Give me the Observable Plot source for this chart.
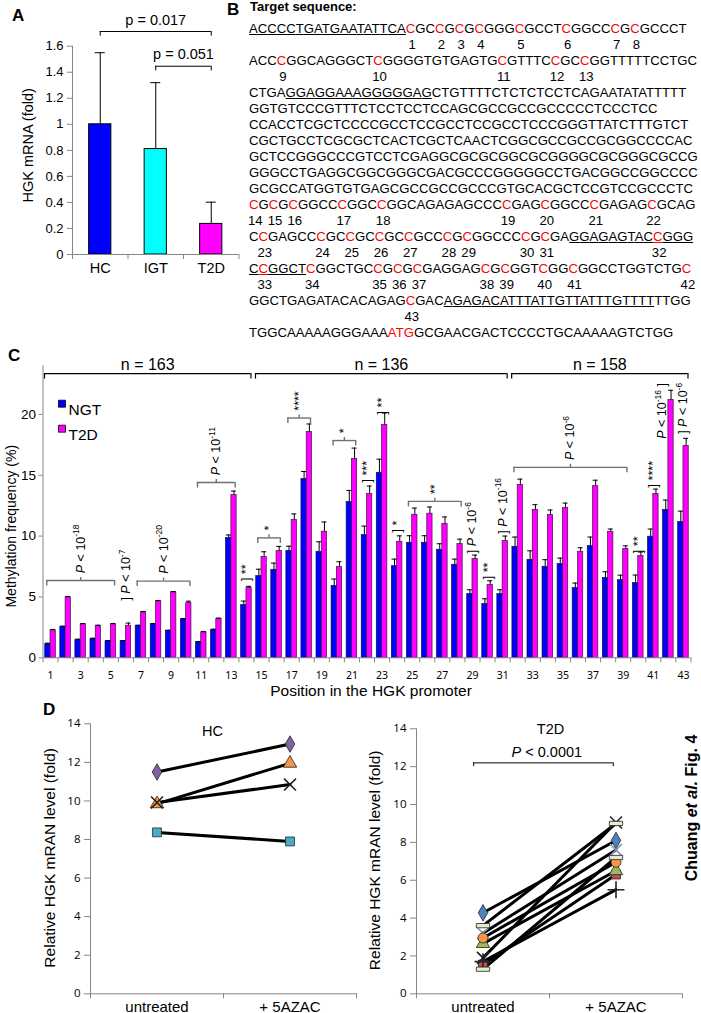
<!DOCTYPE html>
<html><head><meta charset="utf-8">
<script src="https://cdn.jsdelivr.net/npm/d3@7"></script>
<script src="https://cdn.jsdelivr.net/npm/@observablehq/plot@0.6"></script>
<style>
body{margin:0;background:#fff;}
#root{position:relative;width:701px;height:1013px;overflow:hidden;background:#fff;font-family:"Liberation Sans",Arial,sans-serif;color:#000;}
.plabel{position:absolute;font-weight:bold;font-size:17px;line-height:17px;}
.seq{position:absolute;left:249px;font-size:13.15px;line-height:16px;white-space:pre;}
.cpg{position:relative;color:#ff0000;}
.red{color:#ff0000;}
.num{position:absolute;left:50%;top:16px;transform:translateX(-50%);margin-left:1.5px;color:#000;}
.ul{text-decoration:underline;}
.vtitle{position:absolute;white-space:nowrap;font-weight:bold;font-size:16px;transform:translate(-50%,-50%) rotate(-90deg);}
</style></head><body><div id="root"></div><script>
// ---------------- Panel A data ----------------
const groupsA = ["HC", "IGT", "T2D"];
const meanA = [1.0, 0.81, 0.235];
const errA = [0.55, 0.51, 0.167];
const colorsA = ["#0000ff", "#00ffff", "#ff00ff"];
const ticksA = [0, 0.2, 0.4, 0.6, 0.8, 1, 1.2, 1.4, 1.6];
const bracketsA = [
  {from: 0, to: 2, level: 1.713, label: "p = 0.017"},
  {from: 1, to: 2, level: 1.446, label: "p = 0.051"}
];

// ---------------- Panel B data ----------------
const seqLines = [
  "ACCCCTGATGAATATTCACGCCGCGCGGGCGCCTCGGCCCGCGCCCT",
  "ACCCGGCAGGGCTCGGGGTGTGAGTGCGTTTCCGCCGGTTTTTCCTGC",
  "CTGAGGAGGAAAGGGGGAGCTGTTTTCTCTCTCCTCAGAATATATTTTT",
  "GGTGTCCCGTTTCTCCTCCTCCAGCGCCGCCGCCCCCTCCCTCC",
  "CCACCTCGCTCCCCGCCTCCGCCTCCGCCTCCCGGGTTATCTTTGTCT",
  "CGCTGCCTCGCGCTCACTCGCTCAACTCGGCGCCGCCGCGGCCCCAC",
  "GCTCCGGGCCCGTCCTCGAGGCGCGCGGCGCGGGGCGCGGGCGCCG",
  "GGGCCTGAGGCGGCGGGCGACGCCCGGGGGCCTGACGGCCGGCCCC",
  "GCGCCATGGTGTGAGCGCCGCCGCCCGTGCACGCTCCGTCCGCCCTC",
  "CGCGCGGCCCGGCCGGCAGAGAGCCCCGAGCGGCCCGAGAGCGCAG",
  "CCGAGCCCGCCGCCGCCGCCCGCGGCCCCGCGAGGAGAGTACCGGG",
  "CCGGCTCGGCTGCCGCGCGAGGAGCGCGGTCGGCGGCCTGGTCTGC",
  "GGCTGAGATACACAGAGCGACAGAGACATTTATTGTTATTTGTTTTTTGG",
  "TGGCAAAAAGGGAAAATGGCGAACGACTCCCCTGCAAAAAGTCTGG"
];
const seqSlots = [0, 2, 4, 5, 6, 7, 8, 9, 10, 11, 13, 15, 17, 19];
// [line, char index, CpG number]
const cpgSites = [
  [0,18,1],[0,21,2],[0,23,3],[0,25,4],[0,29,5],[0,34,6],[0,39,7],[0,41,8],
  [1,3,9],[1,13,10],[1,26,11],[1,32,12],[1,35,13],
  [9,0,14],[9,2,15],[9,4,16],[9,9,17],[9,13,18],[9,26,19],[9,30,20],[9,35,21],[9,41,22],
  [10,1,23],[10,7,24],[10,10,25],[10,13,26],[10,16,27],[10,20,28],[10,22,29],[10,28,30],[10,30,31],[10,42,32],
  [11,1,33],[11,6,34],[11,13,35],[11,15,36],[11,17,37],[11,24,38],[11,26,39],[11,30,40],[11,33,41],[11,45,42],
  [12,17,43]
];
const underlines = [[0,0,17],[2,4,18],[10,33,45],[11,0,5],[12,21,45]];
const startCodon = [13, 15, 17];

// ---------------- Panel C data ----------------
const positions = d3.range(1, 44);
const ngtMean = [1.12,2.52,1.45,1.53,1.34,1.34,2.6,2.74,2.19,3.15,1.26,2.27,9.84,4.33,6.71,7.23,8.79,14.68,8.71,5.89,12.79,10.08,15.2,7.53,9.45,9.45,8.88,7.64,5.23,4.41,5.23,9.12,8.05,7.48,7.7,5.73,9.18,6.55,6.38,6.14,9.95,12.14,11.15];
const ngtErr = [0.08,0.08,0.08,0.08,0.08,0.08,0.08,0.08,0.08,0.08,0.08,0.08,0.25,0.33,0.57,0.55,0.38,0.63,0.82,0.58,0.96,0.74,1.12,0.58,0.58,0.58,0.49,0.47,0.36,0.44,0.36,0.8,0.74,0.58,0.49,0.41,0.74,0.52,0.41,0.66,0.63,0.82,0.9];
const t2dMean = [2.25,4.96,2.74,2.6,2.74,2.63,3.73,4.63,5.37,4.49,2.08,3.18,13.37,5.73,8.27,8.77,11.32,18.55,10.36,7.45,16.33,13.45,19.12,9.53,11.75,11.84,10.99,9.34,8.11,5.97,9.59,14.19,12.14,11.73,12.3,8.71,14.1,10.33,8.93,8.36,13.45,21.18,17.4];
const t2dErr = [0.08,0.08,0.08,0.08,0.08,0.22,0.08,0.08,0.08,0.16,0.08,0.08,0.33,0.14,0.44,0.38,0.5,0.66,0.8,0.44,0.9,0.66,0.99,0.49,0.55,0.55,0.58,0.41,0.33,0.36,0.41,0.49,0.44,0.41,0.41,0.33,0.49,0.25,0.27,0.33,0.41,0.8,0.63];
const seriesC = ["NGT", "T2D"];
const ticksCy = [0, 5, 10, 15, 20];
const groupsC = [
  {from: 1, to: 14, label: "n = 163"},
  {from: 15, to: 31, label: "n = 136"},
  {from: 32, to: 43, label: "n = 158"}
];
const sigBrackets = [
  {from: 1, to: 5, level: 6.35, label: "_P_ < 10{-18}"},
  {from: 7, to: 10, level: 6.3, label: "_P_ < 10{-20}"},
  {from: 11, to: 13, level: 14.4, label: "_P_ < 10{-11}"},
  {from: 15, to: 16, level: 9.85, label: "*"},
  {from: 17, to: 18, level: 19.7, label: "****"},
  {from: 20, to: 21, level: 17.85, label: "*"},
  {from: 25, to: 28, level: 12.85, label: "**"},
  {from: 32, to: 39, level: 15.65, label: "_P_ < 10{-6}"}
];
const sigSingles = [
  {pos: 6, bottom: 4.7, label: "] _P_ < 10{-7}"},
  {pos: 14, bottom: 6.3, label: "] **"},
  {pos: 22, bottom: 14.4, label: "] ***"},
  {pos: 23, bottom: 20.0, label: "] **"},
  {pos: 24, bottom: 10.3, label: "] *"},
  {pos: 29, bottom: 8.6, label: "] _P_ < 10{-6}"},
  {pos: 30, bottom: 6.45, label: "] **"},
  {pos: 31, bottom: 10.2, label: "] _P_ < 10{-16}"},
  {pos: 40, bottom: 8.6, label: "] **"},
  {pos: 41, bottom: 14.0, label: "] ****"},
  {pos: 42, bottom: 18.0, label: "_P_ < 10{-16} ]", shift: -0.4},
  {pos: 43, bottom: 18.4, label: "] _P_ < 10{-6}"}
];

// ---------------- Panel D data ----------------
const conditions = ["untreated", "+ 5AZAC"];
const ticksD = [0, 2, 4, 6, 8, 10, 12, 14];
const hcUntreated = [11.5, 9.85, 9.92, 8.37];
const hcTreated = [12.95, 11.95, 10.85, 7.9];
const t2dUntreated = [4.28, 1.55, 2.65, 1.9, 3.2, 2.95, 1.7, 1.3, 3.6];
const t2dTreated = [8.1, 6.3, 6.5, 9.05, 7.6, 6.95, 5.5, 7.2, 9.0];
const bracketD = {from: 0, to: 1, level: 12.2, label: "_P_ < 0.0001"};

// ---------------- styles ----------------
const AX = "#868686";
const FONT = '"Liberation Sans", Arial, sans-serif';
const plotStyle = {fontFamily: FONT, fontSize: "12px", overflow: "visible", background: "transparent", color: "#000"};
const symDash = {draw(ctx, size) { const w = Math.sqrt(size) * 1.5, h = w * 0.32; ctx.moveTo(-w/2, -h/2); ctx.lineTo(w/2, -h/2); ctx.lineTo(w/2, h/2); ctx.lineTo(-w/2, h/2); ctx.closePath(); }};
const hcSymbols = ["diamond", "triangle", "times", "square"];
const hcColors = ["#8064a2", "#f79646", "#222222", "#4bacc6"];
const t2dSymbols = ["diamond", "square", "triangle", "times", "times", "circle", "plus", symDash, symDash];
const t2dColors = ["#4f81bd", "#c0504d", "#9bbb59", "#222222", "#7f97bf", "#f79646", "#222222", "#e3ecd0", "#e3ecd0"];
const strokeOnly = s => s === "times" || s === "plus" || s === "asterisk";

const root = document.getElementById("root");
const svgNS = "http://www.w3.org/2000/svg";

function richify(el) {
  el.querySelectorAll("text").forEach(t => {
    const s = t.textContent;
    if (!/[_{]/.test(s)) return;
    const fs = parseFloat(getComputedStyle(t).fontSize) || 12;
    while (t.firstChild) t.removeChild(t.firstChild);
    const re = /_([^_]+)_|\{([^}]+)\}|([^_{]+)/g;
    let m, raised = false;
    while ((m = re.exec(s))) {
      const ts = document.createElementNS(svgNS, "tspan");
      if (m[2] !== undefined) {
        ts.textContent = m[2];
        ts.setAttribute("font-size", (0.68 * fs).toFixed(2));
        ts.setAttribute("dy", (-0.42 * fs).toFixed(2));
        raised = true;
      } else {
        ts.textContent = m[1] !== undefined ? m[1] : m[3];
        if (m[1] !== undefined) ts.setAttribute("font-style", "italic");
        if (raised) { ts.setAttribute("dy", (0.42 * fs).toFixed(2)); raised = false; }
      }
      t.appendChild(ts);
    }
  });
}
function mount(el, left, top) {
  el.style.position = "absolute";
  el.style.left = left + "px";
  el.style.top = top + "px";
  el.style.maxWidth = "none";
  root.appendChild(el);
  richify(el);
}
function html(tag, cls, text, css) {
  const e = document.createElement(tag);
  if (cls) e.className = cls;
  if (text != null) e.innerHTML = text;
  if (css) Object.assign(e.style, css);
  root.appendChild(e);
  return e;
}

// ---------------- Panel A ----------------
const dataA = groupsA.map((g, i) => ({i, g, mean: meanA[i], top: meanA[i] + errA[i], fill: colorsA[i]}));
const plotA = Plot.plot({
  width: 240, height: 282, marginLeft: 72, marginRight: 1.5, marginTop: 45.7, marginBottom: 28,
  style: plotStyle,
  x: {domain: [-0.5, 2.5], axis: null},
  y: {domain: [0, 1.6], axis: null},
  color: {type: "identity"},
  marks: [
    Plot.rect(dataA, {x1: d => d.i - 0.2, x2: d => d.i + 0.2, y1: 0, y2: "mean", fill: "fill", stroke: "#000", strokeWidth: 1}),
    Plot.ruleX(dataA, {x: "i", y1: "mean", y2: "top", stroke: "#000"}),
    Plot.ruleY(dataA, {y: "top", x1: d => d.i - 0.09, x2: d => d.i + 0.09, stroke: "#000"}),
    Plot.ruleY([0], {stroke: AX}),
    Plot.ruleX([-0.5], {stroke: AX}),
    Plot.axisY({ticks: ticksA, tickSize: 5, tickPadding: 4, fontSize: 13, stroke: AX, fill: "#000", label: null, tickFormat: d => String(d)}),
    Plot.axisX({ticks: [-0.5, 0.5, 1.5, 2.5], tickSize: 5, tickFormat: () => "", stroke: AX, label: null}),
    Plot.axisX({ticks: [0, 1, 2], tickSize: 0, tickPadding: 8, tickFormat: i => groupsA[i], fontSize: 14.5, fill: "#000", label: null}),
    Plot.ruleY(bracketsA, {y: "level", x1: "from", x2: "to", stroke: "#000"}),
    Plot.ruleX(bracketsA, {x: "from", y1: "level", y2: d => d.level - 0.036, stroke: "#000"}),
    Plot.ruleX(bracketsA, {x: "to", y1: "level", y2: d => d.level - 0.036, stroke: "#000"}),
    Plot.text(bracketsA, {x: d => (d.from + d.to) / 2, y: d => d.level + 0.088, text: "label", fontSize: 14.5}),
    Plot.text(["HGK mRNA (fold)"], {text: d => d, frameAnchor: "left", textAnchor: "middle", dx: -44, dy: -5, rotate: -90, fontSize: 14.5})
  ]
});
mount(plotA, 0, 0);

// ---------------- Panel B ----------------
html("div", "plabel", "A", {left: "12px", top: "7px"});
html("div", "plabel", "B", {left: "227px", top: "1px"});
html("div", null, "Target sequence:", {position: "absolute", left: "250px", top: "-1px", fontWeight: "bold", fontSize: "13px", lineHeight: "16px"});
seqLines.forEach((line, li) => {
  const div = html("div", "seq", null, {top: (28.7 + 16 * seqSlots[li] - 8) + "px"});
  [...line].forEach((ch, ci) => {
    const sp = document.createElement("span");
    sp.textContent = ch;
    const site = cpgSites.find(s => s[0] === li && s[1] === ci);
    if (site) {
      sp.className = "cpg";
      const n = document.createElement("span");
      n.className = "num";
      n.textContent = site[2];
      sp.appendChild(n);
    }
    if (li === startCodon[0] && ci >= startCodon[1] && ci <= startCodon[2]) sp.classList.add("red");
    if (underlines.some(u => u[0] === li && ci >= u[1] && ci <= u[2])) sp.classList.add("ul");
    div.appendChild(sp);
  });
});

// ---------------- Panel C ----------------
const rowsC = positions.map((p, i) => ({pos: p, ngt: ngtMean[i], ngtTop: ngtMean[i] + ngtErr[i], t2d: t2dMean[i], t2dTop: t2dMean[i] + t2dErr[i]}));
const bw = 0.35, cap = 0.165;
const mid = d => (d.from + d.to) / 2;
const plotC = Plot.plot({
  width: 701, height: 372, marginLeft: 42.5, marginRight: 10.5, marginTop: 25.2, marginBottom: 54.7,
  style: plotStyle,
  x: {domain: [0.5, 43.5], axis: null},
  y: {domain: [0, 24], axis: null},
  marks: [
    Plot.rect(rowsC, {x1: d => d.pos - bw, x2: "pos", y1: 0, y2: "ngt", fill: "#0000ff", stroke: "#101040", strokeWidth: 0.7}),
    Plot.rect(rowsC, {x1: "pos", x2: d => d.pos + bw, y1: 0, y2: "t2d", fill: "#ff00ff", stroke: "#401040", strokeWidth: 0.7}),
    Plot.ruleX(rowsC, {x: d => d.pos - bw / 2, y1: "ngt", y2: "ngtTop", stroke: "#000"}),
    Plot.ruleY(rowsC, {y: "ngtTop", x1: d => d.pos - bw / 2 - cap, x2: d => d.pos - bw / 2 + cap, stroke: "#000"}),
    Plot.ruleX(rowsC, {x: d => d.pos + bw / 2, y1: "t2d", y2: "t2dTop", stroke: "#000"}),
    Plot.ruleY(rowsC, {y: "t2dTop", x1: d => d.pos + bw / 2 - cap, x2: d => d.pos + bw / 2 + cap, stroke: "#000"}),
    Plot.ruleY([0], {stroke: AX}),
    Plot.ruleX([0.5], {stroke: AX}),
    Plot.axisY({ticks: ticksCy, tickSize: 4, tickPadding: 3, fontSize: 13.5, stroke: AX, fill: "#000", label: null}),
    Plot.axisX({ticks: d3.range(0.5, 44), tickSize: 5, tickFormat: () => "", stroke: AX, label: null}),
    Plot.axisX({ticks: d3.range(1, 44, 2), tickSize: 0, tickPadding: 14, fontSize: 10.5, fontFamily: '"Noto Sans", sans-serif', fill: "#000", label: null}),
    // group brackets
    Plot.ruleY(groupsC, {y: 23.35, x1: d => d.from - 0.4, x2: d => d.to + 0.3, stroke: "#000", strokeWidth: 1.2}),
    Plot.ruleX(groupsC, {x: d => d.from - 0.4, y1: 23.35, y2: 22.9, stroke: "#000", strokeWidth: 1.2}),
    Plot.ruleX(groupsC, {x: d => d.to + 0.3, y1: 23.35, y2: 22.9, stroke: "#000", strokeWidth: 1.2}),
    Plot.text(groupsC, {x: d => (d.from - 0.4 + d.to + 0.3) / 2, y: 24.05, text: "label", fontSize: 16}),
    // significance brackets
    Plot.ruleY(sigBrackets, {y: "level", x1: d => d.from - 0.25, x2: d => d.to + 0.25, stroke: "#707070", strokeWidth: 1.4}),
    Plot.ruleX(sigBrackets, {x: d => d.from - 0.25, y1: "level", y2: d => d.level - 0.45, stroke: "#707070", strokeWidth: 1.4}),
    Plot.ruleX(sigBrackets, {x: d => d.to + 0.25, y1: "level", y2: d => d.level - 0.45, stroke: "#707070", strokeWidth: 1.4}),
    Plot.ruleX(sigBrackets, {x: mid, y1: "level", y2: d => d.level + 0.25, stroke: "#707070", strokeWidth: 1.4}),
    Plot.text(sigBrackets, {x: mid, y: d => d.level + 0.6, text: "label", rotate: -90, textAnchor: "start", fontSize: 12.5}),
    Plot.text(sigSingles, {x: d => d.pos + (d.shift || 0), y: "bottom", text: "label", rotate: -90, textAnchor: "start", fontSize: 12.5}),
    // legend
    Plot.dot([seriesC[0]], {frameAnchor: "top-left", dx: 19, dy: 38, symbol: "square", r: 3.95, fill: "#0000ff", stroke: "#000", strokeWidth: 0.8}),
    Plot.text([seriesC[0]], {text: d => d, frameAnchor: "top-left", dx: 25.5, dy: 38, textAnchor: "start", fontSize: 15.5}),
    Plot.dot([seriesC[1]], {frameAnchor: "top-left", dx: 19, dy: 63, symbol: "square", r: 3.95, fill: "#ff00ff", stroke: "#000", strokeWidth: 0.8}),
    Plot.text([seriesC[1]], {text: d => d, frameAnchor: "top-left", dx: 25.5, dy: 63, textAnchor: "start", fontSize: 15.5}),
    // axis titles
    Plot.text(["Methylation frequency (%)"], {text: d => d, frameAnchor: "left", textAnchor: "middle", dx: -31, dy: 14.5, rotate: -90, fontSize: 14}),
    Plot.text(["Position in the HGK promoter"], {text: d => d, frameAnchor: "bottom", textAnchor: "middle", dx: 4, dy: 38, fontSize: 15.5})
  ]
});
mount(plotC, 0, 340);
html("div", "plabel", "C", {left: "8px", top: "347px"});

// ---------------- Panel D ----------------
function pairPlot(untreated, treated, symbols, colors, opts) {
  const marks = [
    Plot.ruleY([0], {stroke: AX}),
    Plot.ruleX([-0.5], {stroke: AX}),
    Plot.axisY({ticks: ticksD, tickSize: 6, tickPadding: 4, fontSize: 11.5, fontFamily: '"Open Sans", sans-serif', stroke: AX, fill: "#000", label: null}),
    Plot.axisX({ticks: [-0.5, 0.5, 1.5], tickSize: 5, tickFormat: () => "", stroke: AX, label: null}),
    Plot.axisX({ticks: [0, 1], tickSize: 0, tickPadding: 8, tickFormat: i => conditions[i], fontSize: 15, fill: "#000", label: null}),
    Plot.text(["Relative HGK mRAN level (fold)"], {text: d => d, frameAnchor: "left", textAnchor: "middle", dx: opts.labelDx, dy: -1, rotate: -90, fontSize: 15.5}),
    Plot.text([opts.title], {text: d => d, frameAnchor: "top", textAnchor: "middle", dx: opts.titleDx, dy: opts.titleDy, fontSize: 14.5})
  ];
  const series = untreated.map((u, i) => [{c: 0, v: u}, {c: 1, v: treated[i]}]);
  series.forEach(s => marks.push(Plot.line(s, {x: "c", y: "v", stroke: "#000", strokeWidth: 3})));
  series.forEach((s, i) => {
    const so = strokeOnly(symbols[i]);
    marks.push(Plot.dot(s, {x: "c", y: "v", symbol: symbols[i], r: so ? 5.5 : 5, fill: so ? "none" : colors[i], stroke: so ? colors[i] : "#222", strokeWidth: so ? 1.6 : 0.8}));
  });
  if (opts.extra) marks.push(...opts.extra);
  return Plot.plot({
    width: opts.width, height: 313, marginLeft: opts.ml, marginRight: opts.mr, marginTop: opts.mt, marginBottom: 19.7,
    style: plotStyle,
    x: {domain: [-0.5, 1.5], axis: null},
    y: {domain: [0, 14], axis: null},
    marks
  });
}
const plotD1 = pairPlot(hcUntreated, hcTreated, hcSymbols, hcColors, {width: 360, ml: 90, mr: 4, mt: 23.3, labelDx: -40, title: "HC", titleDx: -11, titleDy: 2, extra: []});
mount(plotD1, 0, 700);
const brD = [bracketD];
const plotD2 = pairPlot(t2dUntreated, t2dTreated, t2dSymbols, t2dColors, {width: 361, ml: 76, mr: 19, mt: 28.3, labelDx: -41, title: "T2D", titleDx: 1, titleDy: -5,
  extra: [
    Plot.ruleY(brD, {y: "level", x1: d => d.from - 0.07, x2: d => d.to - 0.02, stroke: "#000"}),
    Plot.ruleX(brD, {x: d => d.from - 0.07, y1: "level", y2: d => d.level - 0.2, stroke: "#000"}),
    Plot.ruleX(brD, {x: d => d.to - 0.02, y1: "level", y2: d => d.level - 0.2, stroke: "#000"}),
    Plot.text(brD, {x: d => (d.from + d.to) / 2 - 0.02, y: d => d.level + 0.55, text: "label", fontSize: 14.5})
  ]});
mount(plotD2, 340, 700);
html("div", "plabel", "D", {left: "43px", top: "701px"});
html("div", "vtitle", "Chuang <i>et al.</i> Fig. 4", {left: "691.7px", top: "808px"});
</script></body></html>
